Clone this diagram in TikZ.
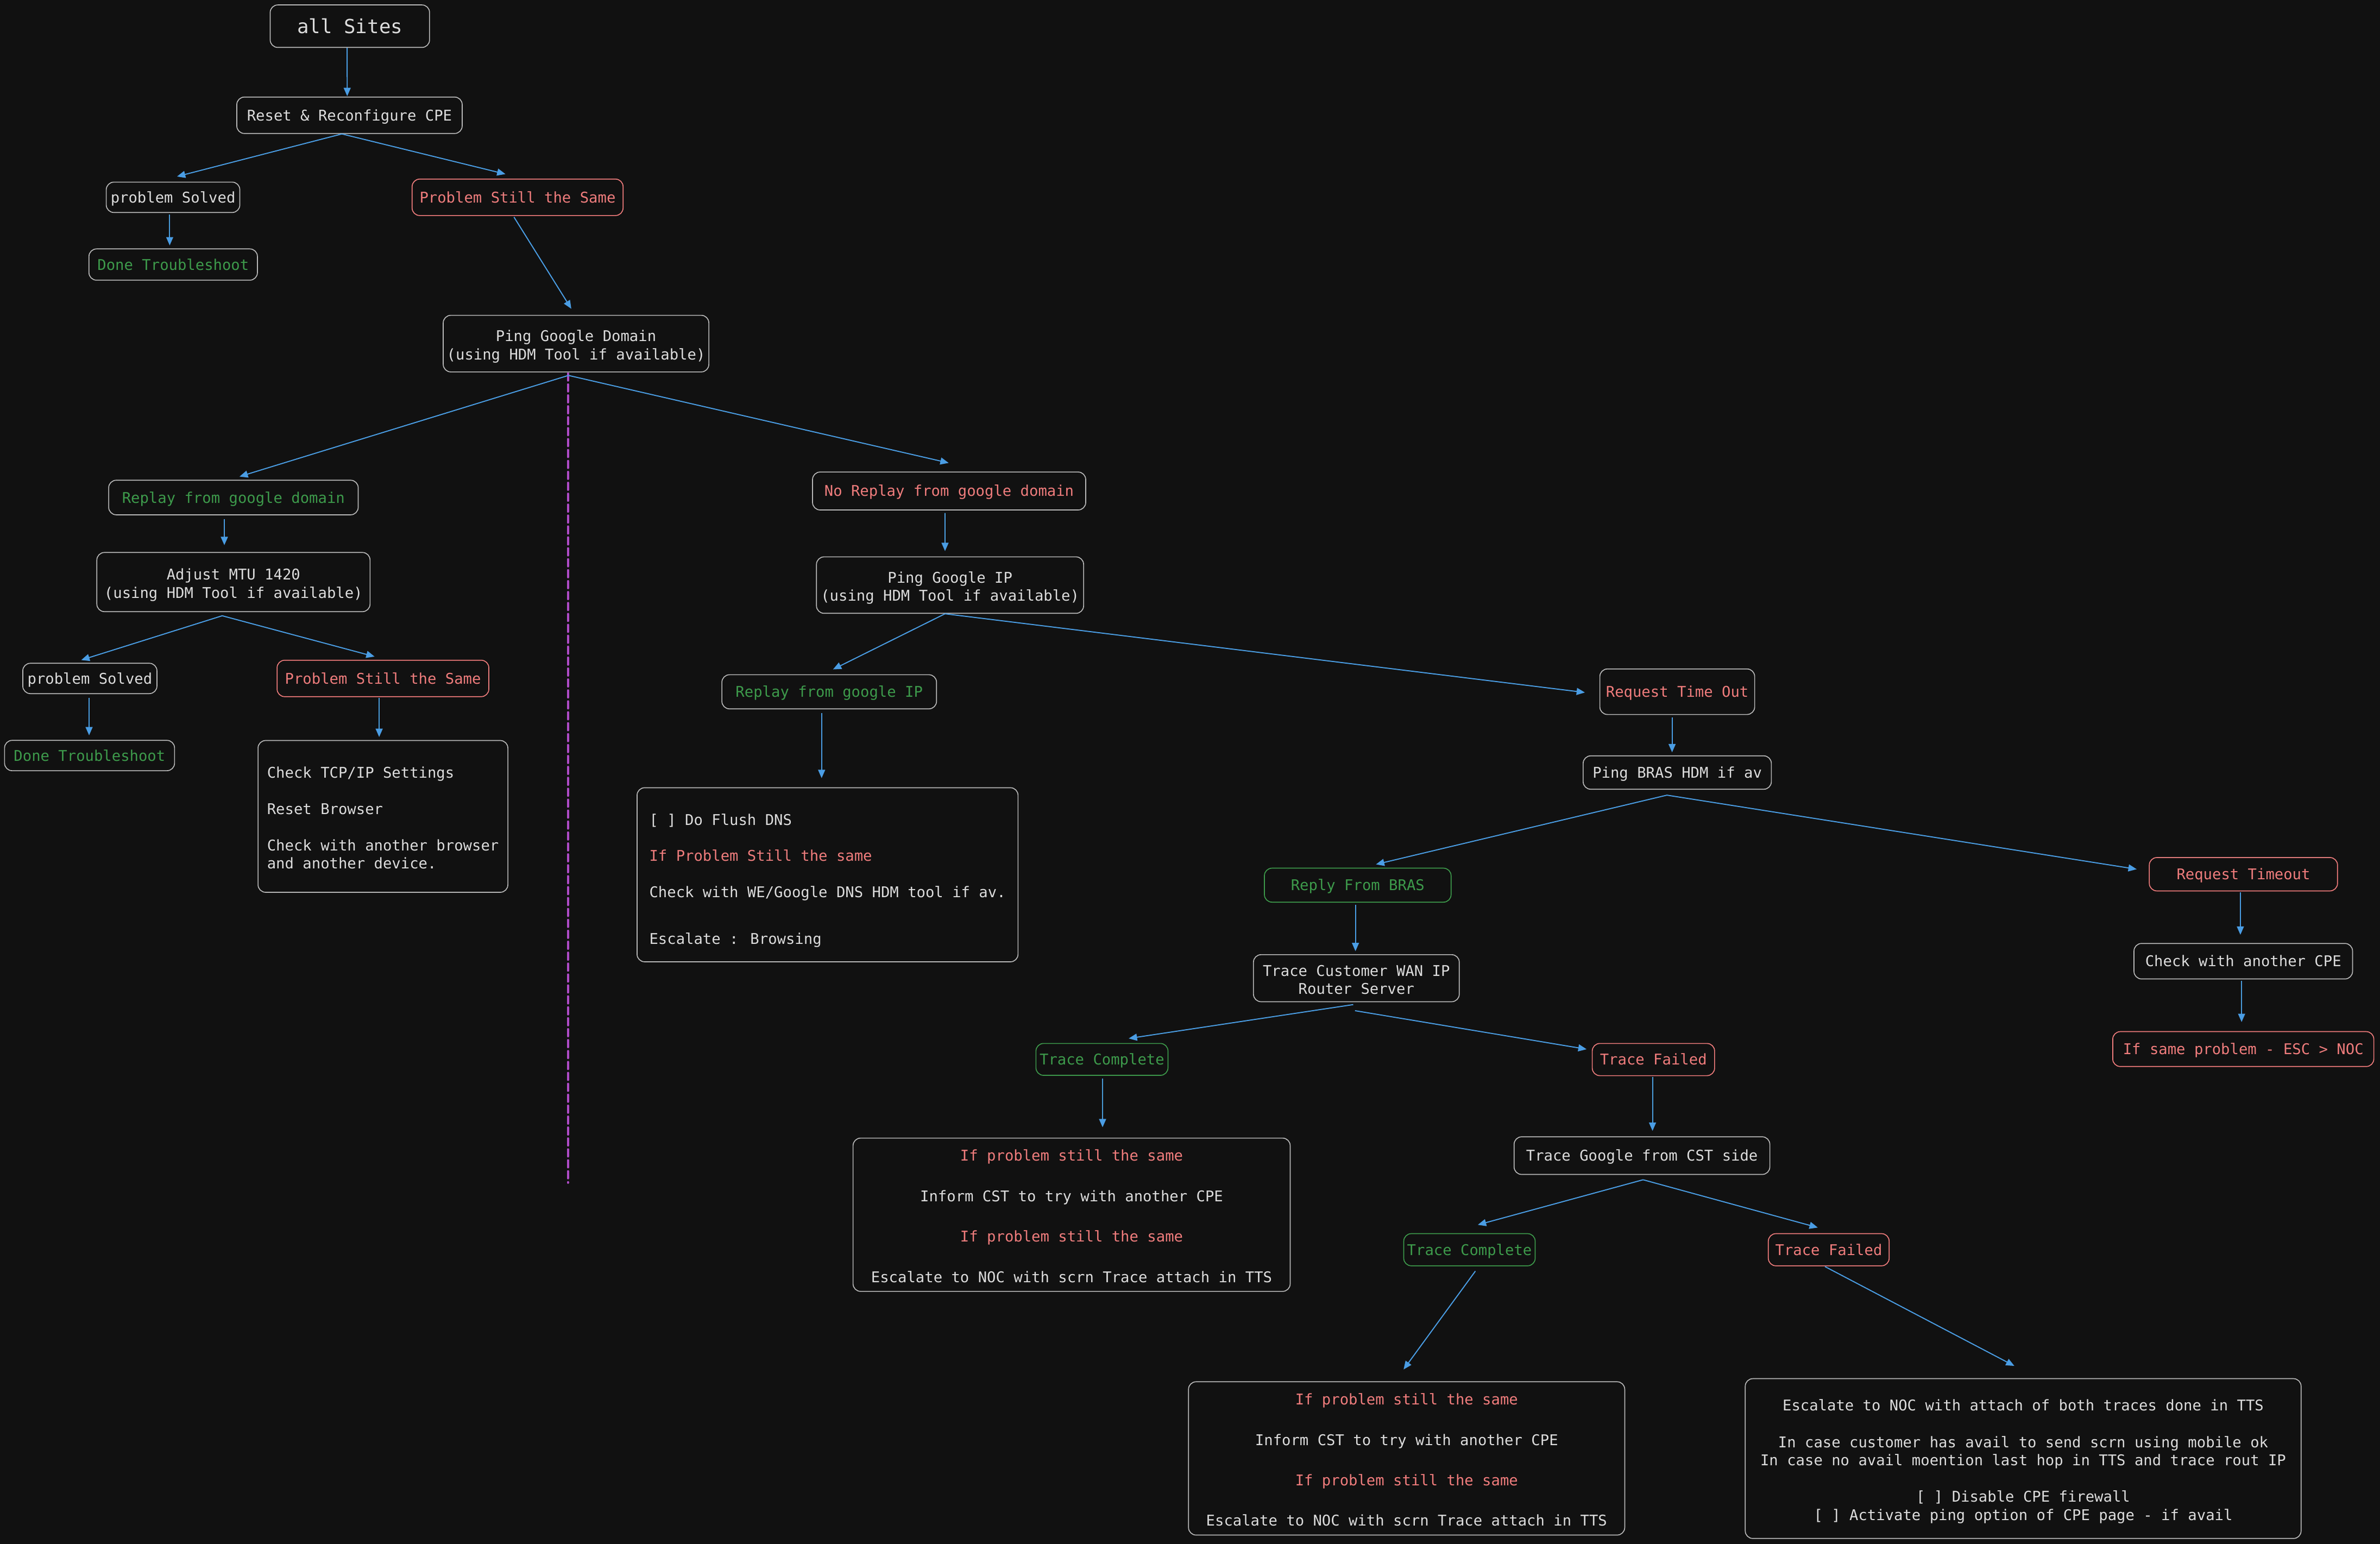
\documentclass[tikz,border=0pt]{standalone}
\usepackage{fontspec}
\setmainfont{DejaVu Sans Mono}
\usetikzlibrary{arrows.meta,calc}
\definecolor{bg}{HTML}{111111}
\definecolor{cfg}{HTML}{DCDCDC}
\definecolor{cborder}{HTML}{B8B8B8}
\definecolor{cred}{HTML}{F07C7C}
\definecolor{cgreen}{HTML}{3D9A4B}
\definecolor{cblue}{HTML}{4A9DE4}
\definecolor{cpurple}{HTML}{B04CC8}
\newcommand\mystrut{\rule[-0.246em]{0pt}{1.22em}}
\newcommand\mytop{\rule{0pt}{11.6pt}}
\begin{document}
\begin{tikzpicture}[x=1pt,y=-1pt,
  box/.style={draw=cborder, line width=0.6pt, rounded corners=5pt, fill=bg, inner sep=0pt,
    text=cfg, align=center, font=\fontsize{9.75}{12}\selectfont,
    execute at begin node=\mystrut, execute at end node=\mystrut},
  gbox/.style={box, draw=cgreen, text=cgreen},
  rbox/.style={box, draw=cred, text=cred},
  arr/.style={draw=cblue, line width=0.7pt, -{Triangle[length=5.5pt,width=4.6pt]}},
  sep/.style={draw=cpurple, line width=1.6pt, line cap=round, dash pattern=on 4.5pt off 2.7pt},
]
\fill[bg] (0,0) rectangle (1568,1017.3);
\useasboundingbox (0,0) rectangle (1568,1017.3);

% nodes
\node[box, minimum width=105pt, minimum height=28pt, font=\fontsize{12.8}{15}\selectfont] (A) at (230.5,17.25) {all Sites};
\node[box, minimum width=148.5pt, minimum height=24pt] (B) at (230.25,75.95) {Reset \& Reconfigure CPE};
\node[box, minimum width=88pt, minimum height=20pt] (C) at (114,130) {problem Solved};
\node[rbox, minimum width=139pt, minimum height=24pt] (D) at (341,130) {Problem Still the Same};
\node[box, text=cgreen, minimum width=111pt, minimum height=20.6pt] (E) at (114.1,174.3) {Done Troubleshoot};
\node[box, minimum width=175pt, minimum height=37.3pt] (F) at (379.5,226.4) {\mytop Ping Google Domain\\(using HDM Tool if available)};
\node[box, text=cgreen, minimum width=164.4pt, minimum height=22.8pt] (G) at (153.8,327.8) {Replay from google domain};
\node[box, text=cred, minimum width=180pt, minimum height=25pt] (H) at (625.3,323.5) {No Replay from google domain};
\node[box, minimum width=180pt, minimum height=39pt] (I) at (153.8,383.5) {\mytop Adjust MTU 1420\\(using HDM Tool if available)};
\node[box, minimum width=176pt, minimum height=37.2pt] (J) at (625.9,385.5) {\mytop Ping Google IP\\(using HDM Tool if available)};
\node[box, minimum width=88.4pt, minimum height=20pt] (K) at (59.2,447) {problem Solved};
\node[rbox, minimum width=139.5pt, minimum height=24pt] (L) at (252.3,447) {Problem Still the Same};
\node[box, text=cgreen, minimum width=112pt, minimum height=20pt] (M) at (59,497.8) {Done Troubleshoot};
\node[box, align=left, minimum width=164.6pt, minimum height=100pt] (N) at (252.3,537.9)
  {\mytop Check TCP/IP Settings\\[12pt]Reset Browser\\[12pt]Check with another browser\\and another device.};
\node[box, text=cgreen, minimum width=141.4pt, minimum height=22.5pt] (O) at (546.3,455.8) {Replay from google IP};
\node[box, text=cred, minimum width=102pt, minimum height=30pt] (P) at (1105,455.75) {Request Time Out};
\node[box, align=left, minimum width=251pt, minimum height=114.7pt] (Q) at (545.2,576.35)
  {\rule{0pt}{15.5pt}[ ] Do Flush DNS\\[11.8pt]\textcolor{cred}{If Problem Still the same}\\[11.9pt]Check with WE/Google DNS HDM tool if av.\hspace*{3.8pt}\\[18.7pt]Escalate : Browsing};
\node[box, minimum width=124pt, minimum height=22pt] (R) at (1105,509) {Ping BRAS HDM if av};
\node[gbox, minimum width=123pt, minimum height=22.4pt] (S) at (894.5,583.2) {Reply From BRAS};
\node[rbox, minimum width=124pt, minimum height=22pt] (T) at (1478,576) {Request Timeout};
\node[box, minimum width=135.6pt, minimum height=31pt] (U) at (893.6,644.5) {\mytop Trace Customer WAN IP\\Router Server};
\node[box, minimum width=144pt, minimum height=23.4pt] (V) at (1477.9,633.3) {Check with another CPE};
\node[gbox, minimum width=87pt, minimum height=21pt] (W) at (726,698) {Trace Complete};
\node[rbox, minimum width=80.6pt, minimum height=21.2pt] (X) at (1089.3,698.1) {Trace Failed};
\node[rbox, minimum width=172pt, minimum height=23pt] (Y) at (1477.9,691.2) {If same problem - ESC > NOC};
\node[box, minimum width=288pt, minimum height=101pt] (Z) at (706,800.35)
  {\mytop\textcolor{cred}{If problem still the same}\\[14.7pt]Inform CST to try with another CPE\\[14.7pt]\textcolor{cred}{If problem still the same}\\[14.7pt]Escalate to NOC with scrn Trace attach in TTS};
\node[box, minimum width=168.5pt, minimum height=24.8pt] (AA) at (1081.75,761.4) {Trace Google from CST side};
\node[gbox, minimum width=86.6pt, minimum height=21.2pt] (AB) at (968.1,823.4) {Trace Complete};
\node[rbox, minimum width=79.6pt, minimum height=21.2pt] (AC) at (1204.8,823.4) {Trace Failed};
\node[box, minimum width=287.4pt, minimum height=101pt] (AD) at (926.7,960.9)
  {\mytop\textcolor{cred}{If problem still the same}\\[14.6pt]Inform CST to try with another CPE\\[14.6pt]\textcolor{cred}{If problem still the same}\\[14.6pt]Escalate to NOC with scrn Trace attach in TTS};
\node[box, minimum width=366.2pt, minimum height=105.3pt] (AE) at (1332.9,961)
  {\mytop Escalate to NOC with attach of both traces done in TTS\\[12pt]In case customer has avail to send scrn using mobile ok\\In case no avail moention last hop in TTS and trace rout IP\\[12pt][ ] Disable CPE firewall\\[0pt][ ] Activate ping option of CPE page - if avail};

% separator
\coordinate (dashend) at (374.2,779.2);
\draw[sep] ($(F.south)+(-5.3,0.8)$) -- (dashend);

% connectors
\draw[arr] ($(A.south)+(-1.8,0)$) -- ($(B.north)+(-1.5,-0.3)$);
\draw[arr] ($(B.south)+(-5,0)$) -- ($(C.north)+(2.6,-3.4)$);
\draw[arr] ($(B.south)+(-5,0)$) -- ($(D.north)+(-8,-3)$);
\draw[arr] ($(C.south)+(-2.2,1.2)$) -- ($(E.north)+(-2.3,-2)$);
\draw[arr] ($(D.south)+(-2.4,0.7)$) -- ($(F.north)+(-3.1,-4)$);
\draw[arr] ($(F.south)+(-5,2)$) -- ($(G.north)+(4,-2.1)$);
\draw[arr] ($(F.south)+(-5,2)$) -- ($(H.north)+(-0.3,-5.7)$);
\draw[arr] ($(G.south)+(-6,2.4)$) -- ($(I.north)+(-6,-4.5)$);
\draw[arr] ($(H.south)+(-2.7,1.7)$) -- ($(J.north)+(-3.3,-3.5)$);
\draw[arr] ($(I.south)+(-7.4,2.4)$) -- ($(K.north)+(-5.7,-1.8)$);
\draw[arr] ($(I.south)+(-7.4,2.4)$) -- ($(L.north)+(-5.5,-2.1)$);
\draw[arr] ($(J.south)+(-3.3,0)$) -- ($(O.north)+(2.5,-3.2)$);
\draw[arr] ($(J.south)+(-3.3,0)$) -- ($(P.west)+(-9.5,0.5)$);
\draw[arr] ($(K.south)+(-0.5,2.5)$) -- ($(M.north)+(-0.3,-3)$);
\draw[arr] ($(L.south)+(-2.5,0.5)$) -- ($(N.north)+(-2.5,-2)$);
\draw[arr] ($(O.south)+(-5,2.5)$) -- ($(Q.north)+(-3.9,-6)$);
\draw[arr] ($(P.south)+(-3.4,1.7)$) -- ($(R.north)+(-3.4,-2)$);
\draw[arr] ($(R.south)+(-6.8,3.6)$) -- ($(S.north)+(12,-2.2)$);
\draw[arr] ($(R.south)+(-6.8,3.6)$) -- ($(T.west)+(-8,-3.3)$);
\draw[arr] ($(S.south)+(-1.5,1.4)$) -- ($(U.north)+(-0.6,-2)$);
\draw[arr] ($(T.south)+(-2,0.5)$) -- ($(V.north)+(-1.9,-5.4)$);
\draw[arr] ($(V.south)+(-1.1,1)$) -- ($(Y.north)+(-1.1,-6)$);
\draw[arr] ($(U.south)+(-2.1,1.6)$) -- ($(W.north)+(17.6,-3)$);
\draw[arr] ($(U.south)+(-0.9,5.6)$) -- ($(X.west)+(-3.4,-6.8)$);
\draw[arr] ($(W.south)+(0.4,1.7)$) -- ($(Z.north)+(20.4,-6.8)$);
\draw[arr] ($(X.south)+(-0.6,0.7)$) -- ($(AA.north)+(6.95,-3.6)$);
\draw[arr] ($(AA.south)+(0.75,3.2)$) -- ($(AB.north)+(5.5,-5.5)$);
\draw[arr] ($(AA.south)+(0.75,3.2)$) -- ($(AC.north)+(-7.2,-3.7)$);
\draw[arr] ($(AB.south)+(3.9,3.2)$) -- ($(AD.north)+(-2,-7.8)$);
\draw[arr] ($(AC.south)+(-2.5,0.2)$) -- ($(AE.north)+(-5.8,-8.1)$);
\end{tikzpicture}
\end{document}
